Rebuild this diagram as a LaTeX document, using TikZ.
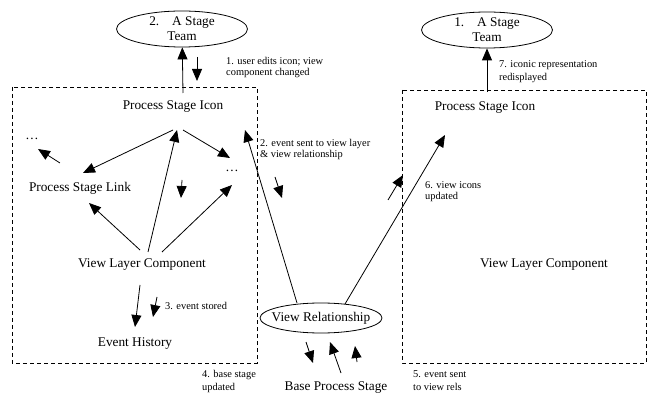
\documentclass[tikz,border=0pt]{standalone}
\usepackage{fontspec}
\setmainfont{Liberation Serif}
\usetikzlibrary{arrows.meta,shapes.geometric}
\begin{document}
\begin{tikzpicture}[x=1pt,y=-1pt,
  lbl/.style={font=\fontsize{13.3}{15}\selectfont, inner sep=0pt},
  note/.style={font=\fontsize{10.4}{11}\selectfont, align=left, anchor=west, inner sep=0pt},
  oval/.style={ellipse, draw, line width=0.8pt, font=\fontsize{13.3}{15}\selectfont, align=center},
  arr/.style={-{Triangle[length=12pt,width=10pt]}, line width=0.8pt},
  frame/.style={draw, line width=0.8pt, dash pattern=on 4pt off 3pt}]
\useasboundingbox (0,0) rectangle (648,395);

% dashed component boundaries
\draw[frame] (12,87) rectangle (257,363);
\draw[frame] (402,90) rectangle (646,363);

% teams and the view relationship
\node[oval, inner xsep=0pt, inner ysep=-1.5pt, minimum width=131pt, minimum height=36pt] (teamL) at (182,29) {2.\hspace{13pt}A Stage\\Team};
\node[oval, inner xsep=0pt, inner ysep=-1.5pt, minimum width=131pt, minimum height=36pt] (teamR) at (487,30) {1.\hspace{13pt}A Stage\\Team};
\node[oval, inner xsep=-10pt, inner ysep=0pt, minimum width=122pt, minimum height=30pt] (vr) at (321,318) {View Relationship};

% left view layer
\node[lbl] (psiL) at (173,107) {Process Stage Icon};
\node[lbl] (pslL) at (80,188) {Process Stage Link};
\node[lbl] (vlcL) at (142,265) {View Layer Component};
\node[lbl] (ehL) at (135,344) {Event History};
\node[lbl] (dotsA) at (32,139) {\dots};
\node[lbl] (dotsB) at (232,171) {\dots};

% right view layer
\node[lbl] (psiR) at (485,108) {Process Stage Icon};
\node[lbl] (vlcR) at (544,265) {View Layer Component};
\node[lbl] (bps) at (336,388) {Base Process Stage};

% step annotations
\node[note] (n1) at (226,67.5) {1. user edits icon; view\\component changed};
\node[note] (n2) at (260,149.5) {2. event sent to view layer\\\&\ view relationship};
\node[note] (n3) at (165,306) {3. event stored};
\node[note, font=\fontsize{10.4}{13.3}\selectfont] (n4) at (202,381.5) {4. base stage\\updated};
\node[note, font=\fontsize{10.4}{13.3}\selectfont] (n5) at (413,380.5) {5. event sent\\to view rels};
\node[note] (n6) at (425,192) {6. view icons\\updated};
\node[note, font=\fontsize{10.4}{13.3}\selectfont] (n7) at (499,71.5) {7. iconic representation\\redisplayed};

% connector end points
\coordinate (psiLtop) at (183,93);
\coordinate (psiRtop) at (487,92);
\coordinate (psiLlo) at (173,130);
\coordinate (psiLlr) at (183,130);
\coordinate (psiLin) at (177,130);
\coordinate (pslLin) at (83,173);
\coordinate (pslLlo) at (89,203);
\coordinate (pslLup) at (60,163);
\coordinate (dotsAin) at (38,149);
\coordinate (dotsBup) at (230,158);
\coordinate (dotsBlo) at (232,185);
\coordinate (vlcLa) at (148,252);
\coordinate (vlcLb) at (162,252);
\coordinate (vlcLc) at (140,250);
\coordinate (vlcLd) at (140,285);
\coordinate (ehLin) at (135,327);
\coordinate (vrL) at (297,303);
\coordinate (vrR) at (345,304);
\coordinate (psiLside) at (245,130);
\coordinate (psiRin) at (445,135);

% main connectors
\draw[arr] (psiLtop) -- (teamL);
\draw[arr] (psiRtop) -- (teamR);
\draw[arr] (psiLlo) -- (pslLin);
\draw[arr] (psiLlr) -- (dotsBup);
\draw[arr] (pslLup) -- (dotsAin);
\draw[arr] (vlcLa) -- (psiLin);
\draw[arr] (vlcLb) -- (dotsBlo);
\draw[arr] (vlcLc) -- (pslLlo);
\draw[arr] (vlcLd) -- (ehLin);
\draw[arr] (vrL) -- (psiLside);
\draw[arr] (vrR) -- (psiRin);

% short arrows showing the flow of each step
\coordinate (s1a) at (197,57);   \coordinate (s1b) at (197,81);
\coordinate (s2a) at (182,180);  \coordinate (s2b) at (181,198);
\coordinate (s3a) at (275,177);  \coordinate (s3b) at (282,198);
\coordinate (s4a) at (388,200);  \coordinate (s4b) at (403,175);
\coordinate (s5a) at (157,297);  \coordinate (s5b) at (153,317);
\coordinate (s6a) at (306,342);  \coordinate (s6b) at (313,363);
\coordinate (s7a) at (341,373);  \coordinate (s7b) at (330,342);
\coordinate (s8a) at (357,362);  \coordinate (s8b) at (355,346);
\foreach \i in {1,...,8} \draw[arr] (s\i a) -- (s\i b);
\end{tikzpicture}
\end{document}
